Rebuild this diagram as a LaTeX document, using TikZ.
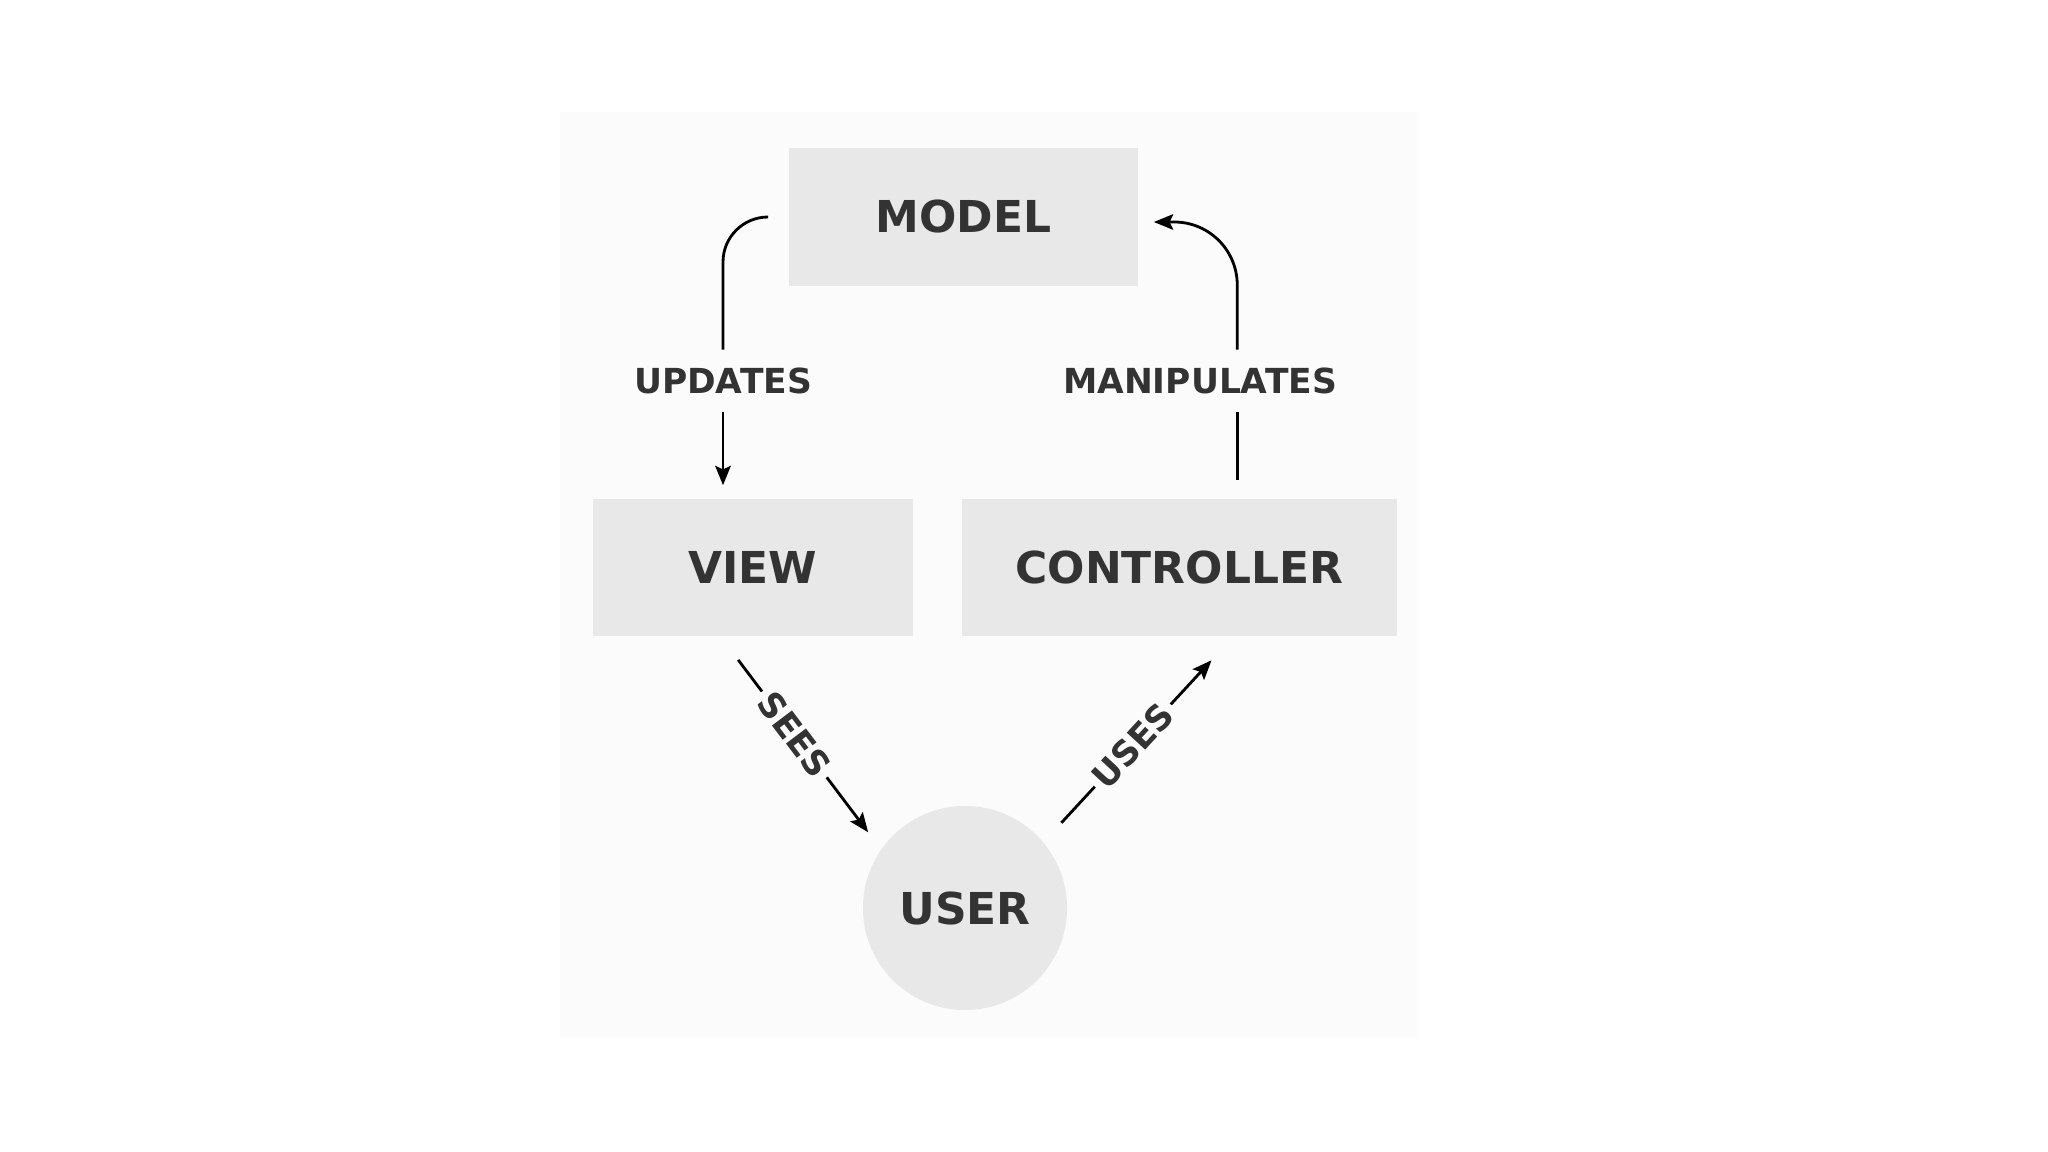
\documentclass[tikz,border=0pt]{standalone}
\usepackage{fontspec}
\setmainfont{DejaVu Sans}
\usetikzlibrary{arrows.meta,positioning}
\definecolor{boxgray}{HTML}{E8E8E8}
\definecolor{panelgray}{HTML}{FBFBFB}
\definecolor{inkgray}{HTML}{333333}
\begin{document}
\begin{tikzpicture}[
                x=0.01cm, y=-0.01cm,
                part/.style={fill=boxgray, text=inkgray, minimum height=1.37cm, font=\fontsize{12.5}{15}\selectfont\bfseries},
                actor/.style={circle, fill=boxgray, text=inkgray, minimum size=2.04cm, font=\fontsize{12.5}{15}\selectfont\bfseries},
                tag/.style={fill=panelgray, text=inkgray, inner xsep=1.5pt, inner ysep=5pt, font=\fontsize{9.8}{12}\selectfont\bfseries},
                wire/.style={line width=0.8pt},
                link/.style={wire, -{Stealth[length=5.5pt,width=4.4pt,inset=1pt]}}
            ]

            \useasboundingbox (0,0) rectangle (2048,1152);
            \fill[panelgray] (560,112) rectangle (1417,1038);

            \node[part, minimum width=3.49cm] (model) at (963.5,217) {MODEL};
            \node[part, minimum width=3.20cm] (view) at (753,567.5) {VIEW};
            \node[part, minimum width=4.35cm, right=0.47cm of view] (controller) {CONTROLLER};
            \node[actor] (user) at (965,908) {USER};

            \node[tag] (updates) at (723,381) {UPDATES};
            \node[tag] (manipulates) at (1200,381) {MANIPULATES};

            % model -> view
            \draw[wire, rounded corners=0.45cm, shorten <=0.22cm] (model.west) -| (updates.north);
            \draw[link, shorten >=0.13cm] (updates.south) -- (updates.south |- view.north);

            % controller -> model
            \draw[wire, shorten <=0.18cm] (controller.50) -- (controller.50 |- manipulates.south);
            \draw[link, rounded corners=0.63cm, shorten >=0.15cm] (controller.50 |- manipulates.north) |- ([yshift=-0.05cm]model.east);

            % view -> user -> controller
            \draw[link, shorten <=0.29cm, shorten >=0.21cm] (view.-115) -- node[tag, sloped, pos=0.46] (sees) {SEES} (user.145);
            \draw[link, shorten <=0.26cm, shorten >=0.32cm] (user.40) -- node[tag, sloped, pos=0.47] (uses) {USES} (controller.-52);

        \end{tikzpicture}
\end{document}
